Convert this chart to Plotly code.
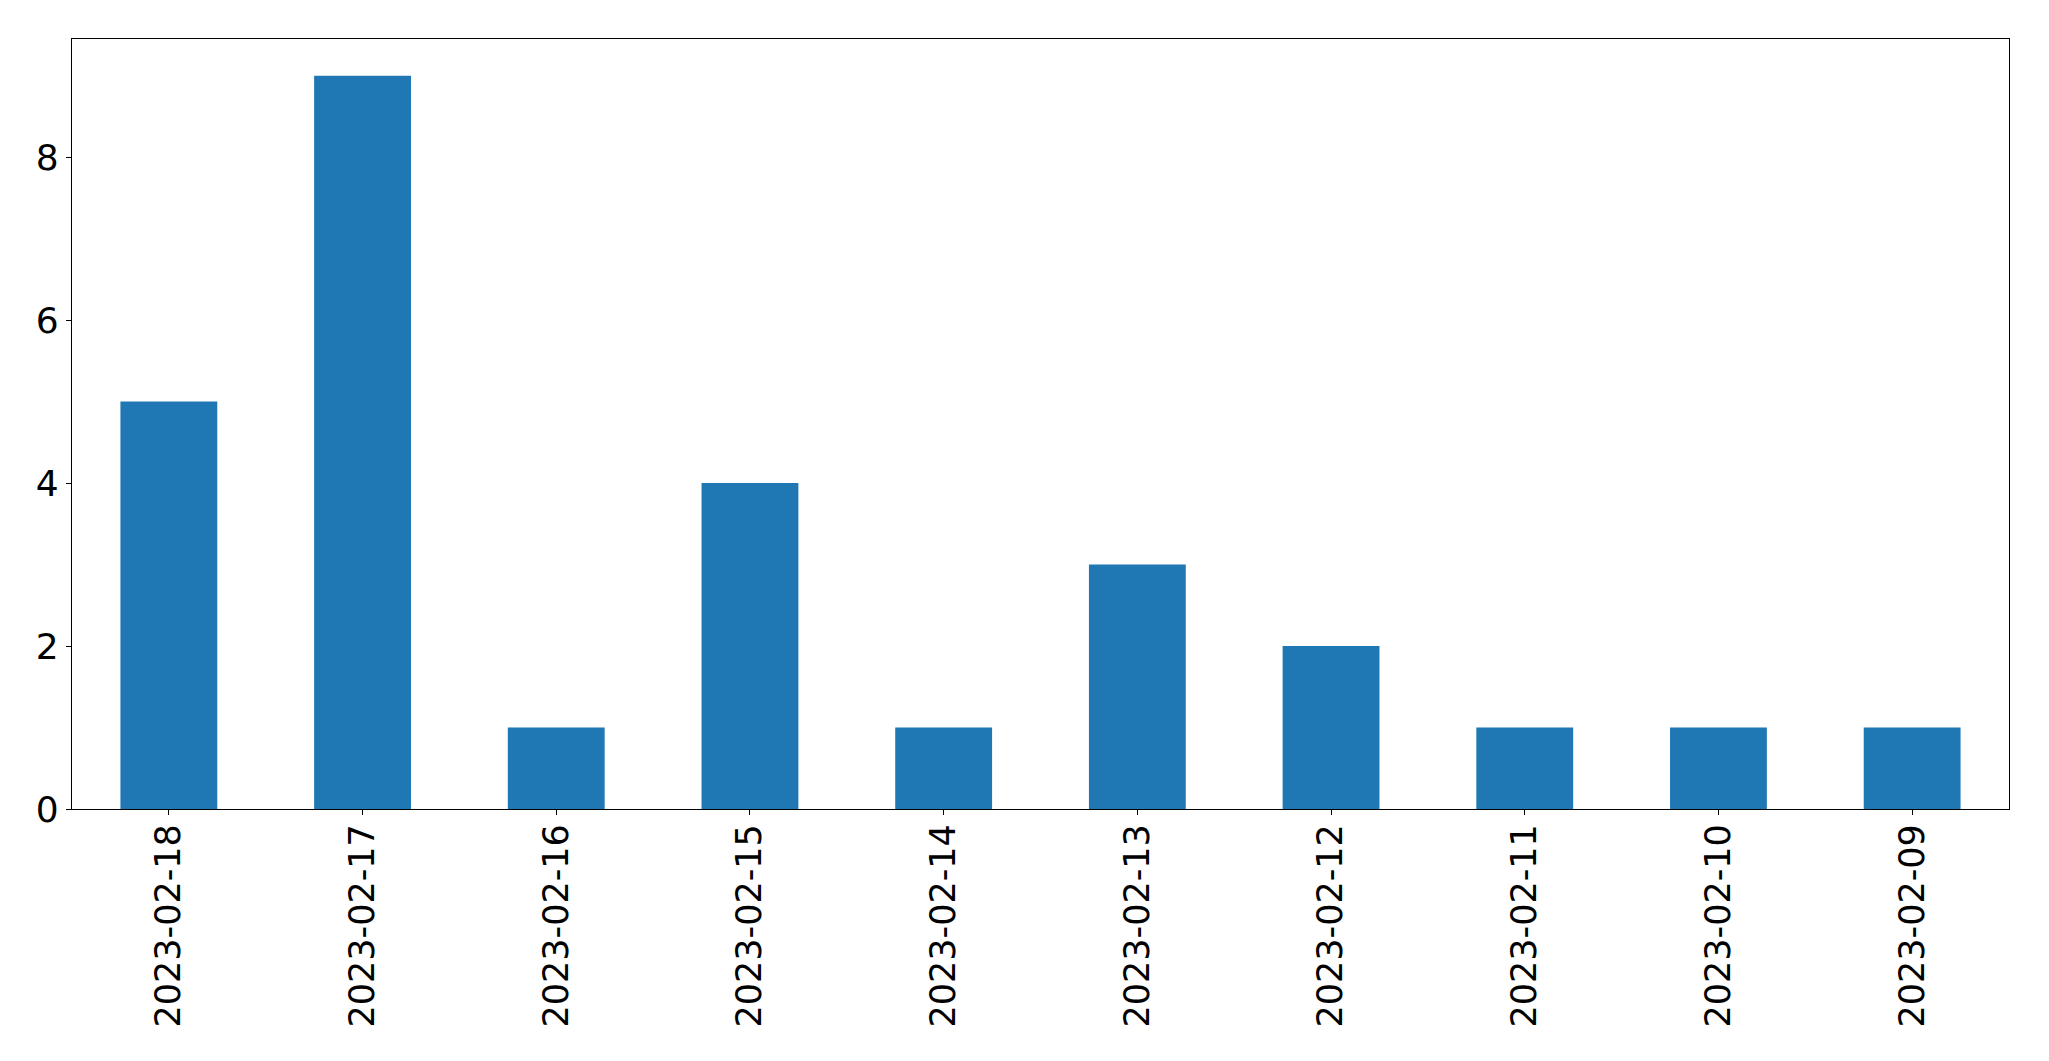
import plotly.graph_objects as go

dates = ["2023-02-18", "2023-02-17", "2023-02-16", "2023-02-15", "2023-02-14",
         "2023-02-13", "2023-02-12", "2023-02-11", "2023-02-10", "2023-02-09"]
counts = [5, 9, 1, 4, 1, 3, 2, 1, 1, 1]
y_ticks = [0, 2, 4, 6, 8]

fig = go.Figure(go.Bar(x=dates, y=counts, width=0.5, marker=dict(color="#1f77b4", line=dict(width=0))))

# page body has an 8px default margin; compensate so the plot area lands at x 72-2009, y 39-809
fig.update_layout(
    width=2041, height=1053,
    margin=dict(l=64, r=40, t=31, b=252, pad=0),
    paper_bgcolor="white", plot_bgcolor="white",
    font=dict(family="DejaVu Sans", size=36, color="black"),
    showlegend=False,
)
fig.update_xaxes(
    type="category", range=[-0.5, 9.5], automargin=False,
    tickangle=-90, ticks="outside", ticklen=5, tickwidth=1.3, tickcolor="black",
    tickfont=dict(size=35), ticklabelstandoff=-5,
    showline=True, linecolor="black", linewidth=1.3, mirror=True,
    showgrid=False, zeroline=False,
)
fig.update_yaxes(
    range=[0, 9.45], tickvals=y_ticks, automargin=False,
    ticks="outside", ticklen=5, tickwidth=1.3, tickcolor="black",
    showline=True, linecolor="black", linewidth=1.3, mirror=True,
    showgrid=False, zeroline=False,
)

fig.write_html("out.html")
